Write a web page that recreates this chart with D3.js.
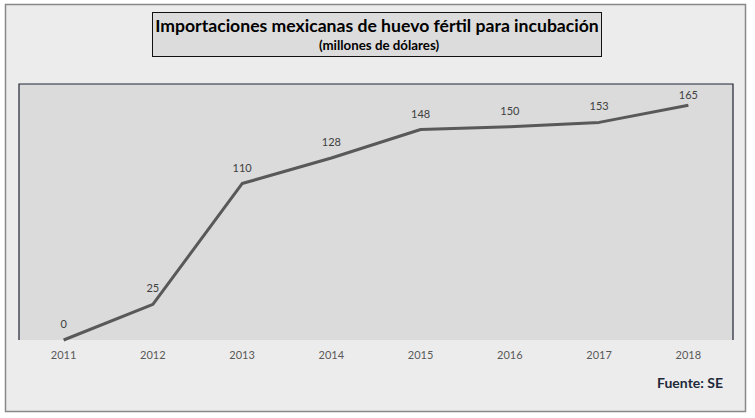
<!DOCTYPE html>
<html>
<head>
<meta charset="utf-8">
<script src="https://cdn.jsdelivr.net/npm/d3@7"></script>
<style>
  body { margin: 0; background: #fff; }
  text { font-family: Lato, "Open Sans", sans-serif; }
</style>
</head>
<body>
<svg id="chart" width="755" height="418"></svg>
<script>
// datos
var years = ["2011", "2012", "2013", "2014", "2015", "2016", "2017", "2018"];
var values = [0, 25, 110, 128, 148, 150, 153, 165];

var svg = d3.select("#chart");

// fondo del grafico
svg.append("rect")
    .attr("x", 5.5).attr("y", 4.5)
    .attr("width", 740).attr("height", 407)
    .attr("fill", "#ececec")
    .attr("stroke", "#888")
    .attr("stroke-width", 1.5);

var plotLeft = 19, plotRight = 733, plotTop = 84, plotBottom = 340;

var x = d3.scaleBand()
    .domain(years)
    .range([plotLeft, plotRight]);

var y = d3.scaleLinear()
    .domain([0, 180])
    .range([plotBottom, plotTop]);

// area del trazado
svg.append("rect")
    .attr("x", plotLeft).attr("y", plotTop)
    .attr("width", plotRight - plotLeft).attr("height", plotBottom - plotTop)
    .attr("fill", "#dbdbdb");

svg.append("path")
    .attr("d", "M" + plotLeft + "," + plotBottom + "V" + plotTop + "H" + plotRight + "V" + plotBottom)
    .attr("fill", "none")
    .attr("stroke", "#1e2433")
    .attr("stroke-width", 1.2);

// eje x
var xAxis = svg.append("g")
    .attr("transform", "translate(0," + plotBottom + ")")
    .call(d3.axisBottom(x).tickSize(0).tickPadding(11));
xAxis.select(".domain").remove();
xAxis.selectAll("text")
    .attr("fill", "#595959")
    .style("font-size", "11px");

// linea
var line = d3.line()
    .x(function(d, i) { return x(years[i]) + x.bandwidth() / 2; })
    .y(function(d) { return y(d); });

svg.append("path")
    .datum(values)
    .attr("d", line)
    .attr("fill", "none")
    .attr("stroke", "#595959")
    .attr("stroke-width", 3)
    .attr("stroke-linejoin", "round");

// etiquetas de datos (sin salir del area del trazado)
svg.selectAll("text.label")
    .data(values)
    .enter()
    .append("text")
    .attr("class", "label")
    .attr("x", function(d, i) { return x(years[i]) + x.bandwidth() / 2; })
    .attr("y", function(d) { return Math.max(y(d) - 12, plotTop + 15); })
    .attr("text-anchor", "middle")
    .attr("fill", "#404040")
    .style("font-size", "11px")
    .text(function(d) { return d; });

// titulo
svg.append("rect")
    .attr("x", 152.5).attr("y", 12.5)
    .attr("width", 449).attr("height", 44)
    .attr("fill", "#dcdcdc")
    .attr("stroke", "#111")
    .attr("stroke-width", 1);

svg.append("text")
    .attr("x", 377).attr("y", 32)
    .attr("text-anchor", "middle")
    .attr("fill", "#000")
    .style("font-size", "17.6px")
    .style("font-weight", "bold")
    .text("Importaciones mexicanas de huevo fértil para incubación");

svg.append("text")
    .attr("x", 379).attr("y", 50)
    .attr("text-anchor", "middle")
    .attr("fill", "#000")
    .style("font-size", "13.3px")
    .style("font-weight", "bold")
    .text("(millones de dólares)");

// fuente
svg.append("text")
    .attr("x", 723).attr("y", 388)
    .attr("text-anchor", "end")
    .attr("fill", "#1e2a3a")
    .style("font-size", "14px")
    .style("font-weight", "bold")
    .text("Fuente: SE");
</script>
</body>
</html>
